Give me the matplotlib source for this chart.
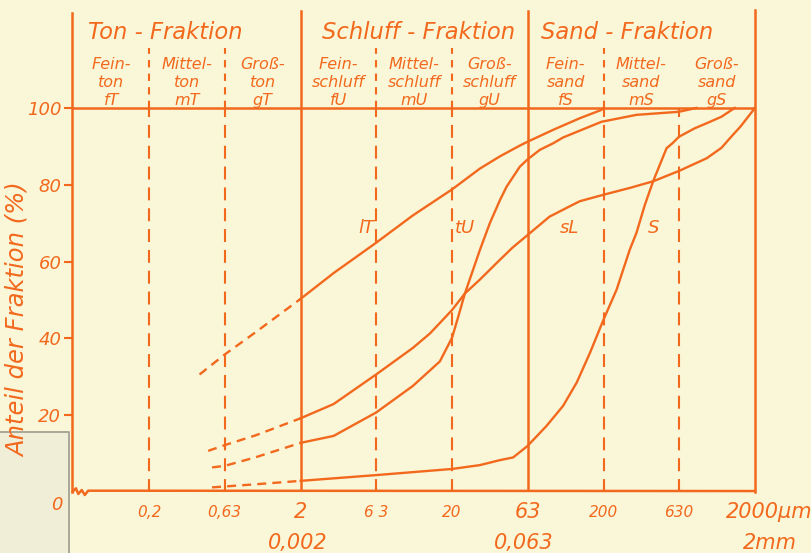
import matplotlib
matplotlib.use("Agg")
import numpy as np
import matplotlib.pyplot as plt
from matplotlib.lines import Line2D
from matplotlib.patches import Polygon

ORANGE = "#f2691d"
PAPER = "#faf6d8"

# --- data: grain size (µm) vs. cumulative share (%) ---
lT_dash_d = [0.43, 0.63, 1.0, 2.0]
lT_dash_p = [30.6, 35.8, 41.5, 50.3]
lT_d = [2, 3.3, 6.3, 11, 20, 30.5, 41.4, 56, 63, 93, 139, 194, 200]
lT_p = [50.3, 57.0, 64.9, 72.0, 78.8, 84.2, 87.4, 90.2, 91.2, 94.3, 97.3, 99.5, 100]

tU_dash_d = [0.52, 0.63, 1.0, 2.0]
tU_dash_p = [6.4, 6.8, 9.0, 12.8]
tU_d = [2, 3.3, 6.3, 11, 16.6, 20, 21.9, 24.3, 30.5, 35.5, 41.4, 45.8, 56, 63,
        76, 93, 108, 194, 330, 630, 820]
tU_p = [12.8, 14.6, 20.7, 27.6, 34.0, 40.2, 45.5, 51.7, 63.0, 70.0, 76.0, 79.5,
        84.7, 86.6, 89.1, 90.8, 92.3, 96.4, 98.2, 99.0, 100]

sL_dash_d = [0.49, 0.63, 1.0, 2.0]
sL_dash_p = [10.7, 12.2, 14.7, 19.2]
sL_d = [2, 3.3, 6.3, 11, 14.3, 20, 24.3, 30.5, 39.3, 50, 63, 88, 139, 200, 300,
        425, 630, 960, 1200, 1430, 1600, 2000]
sL_p = [19.2, 22.9, 30.6, 37.5, 41.3, 47.4, 51.7, 55.3, 59.6, 63.6, 66.9, 71.7,
        75.7, 77.4, 79.2, 80.9, 83.6, 86.9, 89.6, 93.0, 95.1, 100]

S_dash_d = [0.52, 1.0, 2.0]
S_dash_p = [1.2, 2.0, 2.9]
S_d = [2, 6.3, 20, 30.5, 41.4, 50.6, 63, 84, 108, 133, 163, 200, 244, 298, 330,
       375, 425, 521, 570, 630, 800, 957, 1200, 1470]
S_p = [2.9, 4.4, 6.0, 7.0, 8.3, 9.0, 12.0, 17.2, 22.4, 28.5, 36.3, 44.9, 52.7,
       63.1, 67.5, 74.8, 80.9, 89.5, 90.8, 92.5, 94.7, 96.0, 97.7, 100]

curve_names = ["lT", "tU", "sL", "S"]
curve_label_d = [5.4, 24.3, 120, 425]
curve_label_p = [68.8, 68.8, 68.8, 68.8]

# --- fractions ---
main_bounds = [0.063, 2, 63, 2000]
sub_bounds = [0.063, 0.2, 0.63, 2, 6.3, 20, 63, 200, 630, 2000]
dashed_at = [0.2, 0.63, 6.3, 20, 200, 630]
header_dashed_at = [0.2, 0.63, 6.3, 20, 200]
frac_titles = ["Ton - Fraktion", "Schluff - Fraktion", "Sand - Fraktion"]
frac_title_d = [0.079, 2.76, 77]
sub_labels = [("Fein-", "ton", "fT"), ("Mittel-", "ton", "mT"), ("Groß-", "ton", "gT"),
              ("Fein-", "schluff", "fU"), ("Mittel-", "schluff", "mU"), ("Groß-", "schluff", "gU"),
              ("Fein-", "sand", "fS"), ("Mittel-", "sand", "mS"), ("Groß-", "sand", "gS")]

y_ticks = [20, 40, 60, 80, 100]
x_small = [0.2, 0.63, 6.3, 20, 200, 630]
x_small_lab = ["0,2", "0,63", "6 3", "20", "200", "630"]

plt.rcParams['font.family'] = ['DejaVu Sans']
fig = plt.figure(figsize=(8.12, 5.53), dpi=100)
fig.patch.set_facecolor(PAPER)

# grey paper corner of the scan (bottom left), kept behind everything
cx, cy = 69 / 812, (553 - 432) / 553
fig.add_artist(Polygon([[0, 0], [0, cy], [cx, cy], [cx, 0]], closed=True,
                       transform=fig.transFigure, facecolor="#f1eed8", edgecolor="none", zorder=-2))
fig.add_artist(Line2D([0, cx, cx], [cy, cy, 0], transform=fig.transFigure,
                      color="#a3a293", lw=1.3, zorder=-1))

ax = fig.add_axes([72.5 / 812, (553 - 492) / 553, 682.5 / 812, 482 / 553])
ax.set_facecolor("none")
ax.set_xscale("log")
ax.set_xlim(0.0623, 2000)
ax.set_ylim(0, 125.5)

LW = 1.8
for side in ["top", "bottom"]:
    ax.spines[side].set_visible(False)
for side in ["left", "right"]:
    ax.spines[side].set_color(ORANGE)
    ax.spines[side].set_linewidth(LW)
ax.spines["left"].set_bounds(0, 124.8)

# bottom line with small break squiggle at the left
sq_x = [0.0003, 0.005, 0.0085, 0.0135, 0.018, 0.023, 1.0]
sq_y = [0.0006, 0.0077, -0.0041, 0.0041, -0.0062, 0.0027, 0.002]
ax.plot(sq_x, sq_y, color=ORANGE, lw=LW, transform=ax.transAxes, clip_on=False,
        solid_joinstyle="round")

# main fraction boundaries and 100 % line
for d in main_bounds[1:-1]:
    ax.plot([d, d], [0, 125.2], color=ORANGE, lw=LW)
ax.axhline(100, color=ORANGE, lw=LW)
for d in dashed_at:
    ax.plot([d, d], [0, 100], color=ORANGE, lw=1.5, dashes=(6.2, 3.8))
for d in header_dashed_at:
    ax.plot([d, d], [100, 115.5], color=ORANGE, lw=1.5, dashes=(3.5, 3.0))

# curves
curves = [(lT_dash_d, lT_dash_p, lT_d, lT_p), (tU_dash_d, tU_dash_p, tU_d, tU_p),
          (sL_dash_d, sL_dash_p, sL_d, sL_p), (S_dash_d, S_dash_p, S_d, S_p)]
for dd, dp, sd, sp in curves:
    ax.plot(dd, dp, color=ORANGE, lw=1.7, dashes=(3.8, 2.6))
    ax.plot(sd, sp, color=ORANGE, lw=1.7, solid_joinstyle="round")

for name, d, p in zip(curve_names, curve_label_d, curve_label_p):
    ax.text(d, p, name, color=ORANGE, fontsize=13, style="italic", ha="center", va="center")

# header
for t, d in zip(frac_titles, frac_title_d):
    ax.text(d, 119.6, t, color=ORANGE, fontsize=16.3, style="italic", ha="left", va="center")
for i, lines in enumerate(sub_labels):
    xc = np.sqrt(sub_bounds[i] * sub_bounds[i + 1])
    for line, yy in zip(lines, [111.4, 106.6, 101.9]):
        ax.text(xc, yy, line, color=ORANGE, fontsize=11.5, style="italic", ha="center", va="center")

# y axis
ax.set_yticks(y_ticks)
ax.tick_params(axis="y", direction="out", length=6, width=1.5, color=ORANGE,
               labelcolor=ORANGE, labelsize=13, pad=2)
for lbl in ax.get_yticklabels():
    lbl.set_style("italic")
ax.annotate("0", xy=(0, 0), xycoords="axes fraction", xytext=(-11, -9),
            textcoords="offset points", color=ORANGE, fontsize=13, style="italic",
            ha="center", va="center")
ax.text(-0.08, 0.357, "Anteil der Fraktion (%)", transform=ax.transAxes, rotation=90,
        color=ORANGE, fontsize=17.5, style="italic", ha="center", va="center")

# x axis
ax.set_xticks(x_small)
ax.set_xticks([], minor=True)
ax.set_xticklabels([])
ax.tick_params(axis="x", direction="in", length=5, width=1.5, color=ORANGE)
for d, t in zip(x_small, x_small_lab):
    ax.annotate(t, xy=(d, 0), xycoords=("data", "axes fraction"), xytext=(0, -14.5),
                textcoords="offset points", color=ORANGE, fontsize=11, style="italic",
                ha="center", va="center")
big = [(2, "2", 0, -14.5), (63, "63", 0, -14.5), (2000, "2000µm", 10, -14.5),
       (2, "0,002", -2, -37), (63, "0,063", -3, -37), (2000, "2mm", 11, -37)]
for d, t, dx, dy in big:
    ax.annotate(t, xy=(d, 0), xycoords=("data", "axes fraction"), xytext=(dx, dy),
                textcoords="offset points", color=ORANGE, fontsize=15, style="italic",
                ha="center", va="center")

fig.savefig("out.png", dpi=100, facecolor=PAPER)
